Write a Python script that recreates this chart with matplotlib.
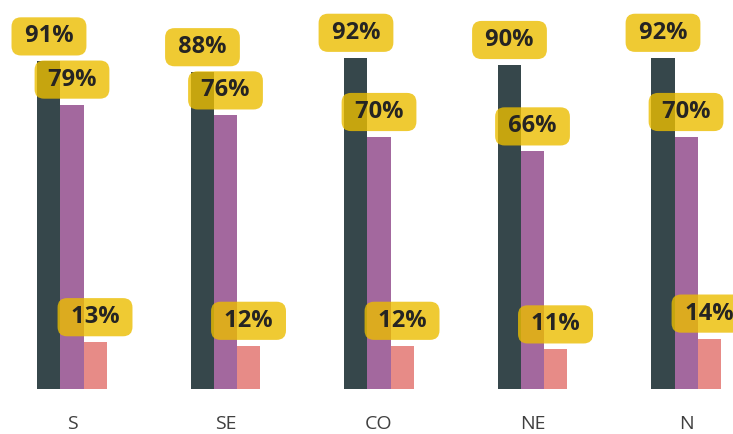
import matplotlib
matplotlib.use('Agg')
import matplotlib.pyplot as plt
import numpy as np

plt.rcParams['font.family'] = ['Open Sans', 'DejaVu Sans']

regions = ["S", "SE", "CO", "NE", "N"]
serie_a = [91, 88, 92, 90, 92]
serie_b = [79, 76, 70, 66, 70]
serie_c = [13, 12, 12, 11, 14]

colors = ['#36474b', '#a3689e', '#e78b87']

fig = plt.figure(figsize=(7.33, 4.34), dpi=100)
ax = fig.add_axes([0, 1 - 389 / 434, 1, (389 - 29) / 434])

x = np.arange(len(regions))
width = 0.15
for i, vals in enumerate([serie_a, serie_b, serie_c]):
    pos = x + (i - 1) * width
    ax.bar(pos, vals, width, color=colors[i], zorder=1)
    for px, v in zip(pos, vals):
        ax.annotate(f" {v}% ", (px, v), xytext=(0, 18), textcoords='offset points',
                    ha='center', va='center', fontsize=17, fontweight='bold',
                    color='#252423', zorder=3, annotation_clip=False,
                    bbox=dict(boxstyle='round,pad=0.3,rounding_size=0.4',
                              facecolor='#ebbd00', edgecolor='none', alpha=0.8))

ax.set_xlim(-0.469, 4.306)
ax.set_ylim(0, 100)
ax.set_xticks(x)
ax.set_xticklabels(regions, fontsize=14, color='#404040')
ax.tick_params(axis='x', length=0, pad=19)
ax.set_yticks([])
for s in ax.spines.values():
    s.set_visible(False)

plt.savefig("out.png", dpi=100)
